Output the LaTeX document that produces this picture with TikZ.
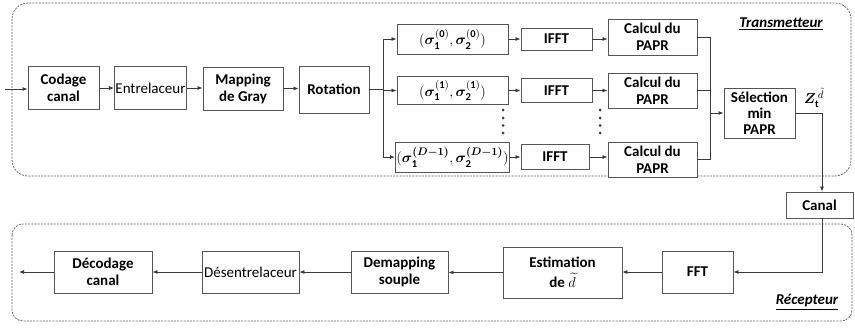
\documentclass[tikz,border=0pt]{standalone}
\usepackage{fontspec}
\setmainfont{Carlito}
\usepackage{amsmath}
\usepackage{bm}
\usetikzlibrary{arrows.meta}
\definecolor{boxgray}{HTML}{555555}
\definecolor{linegray}{HTML}{3A3A3A}
\definecolor{dashgray}{HTML}{5A5A5A}
\begin{document}
\begin{tikzpicture}[x=1pt,y=-1pt,
  box/.style={draw=boxgray, line width=0.9pt, inner sep=1pt, align=center, fill=white,
    font={\bfseries\fontsize{15}{17}\selectfont}},
  reg/.style={font={\fontsize{15}{17}\selectfont}},
  arr/.style={draw=linegray, line width=0.8pt, -{Latex[length=5pt,width=4pt]}},
  ln/.style={draw=linegray, line width=0.8pt},
  dbox/.style={draw=dashgray, dash pattern=on 2pt off 1.2pt, line width=0.7pt},
  lab/.style={font={\bfseries\itshape\fontsize{15}{17}\selectfont}, inner sep=0pt},
  dotf/.style={fill=linegray}
]
\useasboundingbox (0,0) rectangle (855,327);

% dashed frames
\draw[dbox, rounded corners=16pt] (12,3) rectangle (851,176);
\draw[dbox, rounded corners=11pt] (12,224) rectangle (852,321);

% transmitter chain
\coordinate (in) at (5,89);
\node[box, minimum width=71pt, minimum height=43pt] (codage) at (63.5,88) {Codage\\canal};
\node[box, reg, minimum width=71pt, minimum height=43pt] (entrel) at (150.5,88) {Entrelaceur};
\node[box, minimum width=80pt, minimum height=43pt] (mapping) at (243,88.5) {Mapping\\de Gray};
\node[box, minimum width=70pt, minimum height=47pt] (rot) at (334,89.5) {Rotation};

\draw[arr] (in) -- (in -| codage.west);
\draw[arr] (codage.east) -- (codage.east -| entrel.west);
\draw[arr] (entrel.east) -- (entrel.east -| mapping.west);
\draw[arr] (mapping.east) -- (mapping.east -| rot.west);

% branches
\node[box, minimum width=111pt, minimum height=30pt] (s0) at (452.5,39)
  {$(\bm{\sigma}_{\mathbf 1}^{\mathbf{(0)}},\bm{\sigma}_{\mathbf 2}^{\mathbf{(0)}})$};
\node[box, minimum width=111pt, minimum height=28pt] (s1) at (452.5,90.5)
  {$(\bm{\sigma}_{\mathbf 1}^{\mathbf{(1)}},\bm{\sigma}_{\mathbf 2}^{\mathbf{(1)}})$};
\node[box, minimum width=111pt, minimum height=30pt] (s2) at (452.5,157)
  {$(\bm{\sigma}_{\mathbf 1}^{\bm{(D-1)}},\bm{\sigma}_{\mathbf 2}^{\bm{(D-1)}})$};

\coordinate (bus) at (383,89.5);
\draw[ln] (rot.east) -- (bus);
\draw[ln] (bus |- s0) -- (bus |- s2);
\draw[arr] (bus |- s0) -- (s0.west);
\draw[arr] (bus |- s1) -- (s1.west);
\draw[arr] (bus |- s2) -- (s2.west);

\node[box, minimum width=71pt, minimum height=22pt] (f0) at (556.5,39) {IFFT};
\node[box, minimum width=71pt, minimum height=24pt] (f1) at (556.5,90.5) {IFFT};
\node[box, minimum width=68pt, minimum height=25pt] (f2) at (555,157) {IFFT};

\draw[arr] (s0.east) -- (s0.east -| f0.west);
\draw[arr] (s1.east) -- (s1.east -| f1.west);
\draw[arr] (s2.east) -- (s2.east -| f2.west);

\node[box, minimum width=89pt, minimum height=36pt] (c0) at (652.5,37) {Calcul du\\PAPR};
\node[box, minimum width=89pt, minimum height=35pt] (c1) at (652.5,90.5) {Calcul du\\PAPR};
\node[box, minimum width=89pt, minimum height=35pt] (c2) at (652.5,159.5) {Calcul du\\PAPR};

\draw[arr] (f0.east) -- (f0.east -| c0.west);
\draw[arr] (f1.east) -- (f1.east -| c1.west);
\draw[arr] (f2.east) -- (f2.east -| c2.west);

% dots
\foreach \yy in {110,118,125.5,133} {
  \fill[dotf] (503,\yy) circle (1.5pt);
  \fill[dotf] (600,\yy) circle (1.5pt);
}

% merge
\node[box, minimum width=71pt, minimum height=50pt, font={\bfseries\fontsize{15}{16}\selectfont}] (sel) at (759.5,113) {Sélection\\min\\PAPR};
\coordinate (mg) at (710,113);
\draw[ln] (c0.east) -- (c0.east -| mg);
\draw[ln] (c1.east) -- (c1.east -| mg);
\draw[ln] (c2.east) -- (c2.east -| mg);
\draw[ln] (mg |- c0.east) -- (mg |- c2.east);
\draw[arr] (mg) -- (sel.west);

\node[inner sep=0pt, font={\fontsize{15}{17}\selectfont}] (z) at (814,98) {$\bm{Z}_{\mathbf{t}}^{\,\tilde{d}}$};

\node[box, minimum width=67pt, minimum height=26pt] (canal) at (819.5,205) {Canal};
\coordinate (k) at (822,113);
\draw[arr] (sel.east) -- (k) -- (k |- canal.north);

% receiver chain
\node[box, minimum width=71pt, minimum height=42pt] (fft) at (697.5,272) {FFT};
\node[box, minimum width=119pt, minimum height=51pt] (est) at (562.5,272.5) {Estimation\\[3pt]de $\widetilde{d}$};
\node[box, minimum width=97pt, minimum height=42pt] (demap) at (399.5,272) {Demapping\\souple};
\node[box, reg, minimum width=97pt, minimum height=42pt] (desent) at (250.5,272) {Désentrelaceur};
\node[box, minimum width=98pt, minimum height=42pt] (decod) at (103,272) {Décodage\\canal};
\coordinate (out) at (19,272);

\draw[arr] (k |- canal.south) -- (k |- fft.east) -- (fft.east);
\draw[arr] (fft.west) -- (fft.west -| est.east);
\draw[arr] (est.west) -- (est.west -| demap.east);
\draw[arr] (demap.west) -- (demap.west -| desent.east);
\draw[arr] (desent.west) -- (desent.west -| decod.east);
\draw[arr] (decod.west) -- (out);

% section labels
\node[lab] (tx) at (781,24) {\underline{Transmetteur}};
\node[lab] (rx) at (807,302) {\underline{Récepteur}};
\end{tikzpicture}
\end{document}
